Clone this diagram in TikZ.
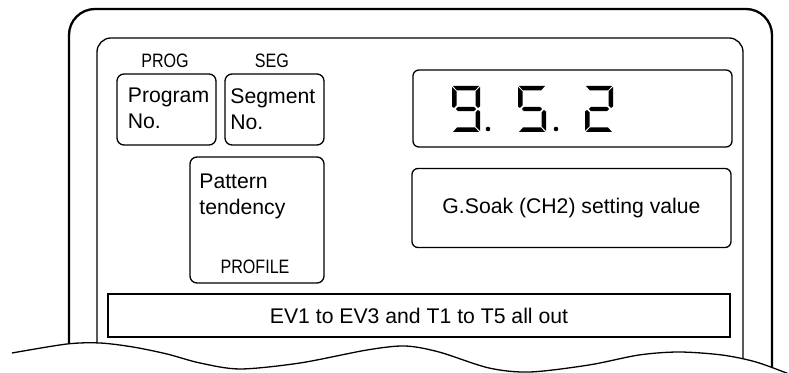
\documentclass[tikz,border=0pt]{standalone}
\usepackage{fontspec}
\setmainfont{Liberation Sans}
\usepackage{graphicx}
\newcommand\dsegA{\fill (1,0) -- (27,0) -- (23,4.5) -- (5,4.5) -- cycle;}
\newcommand\dsegB{\fill (28,1) -- (28,20.5) -- (26,22) -- (23.5,19.5) -- (23.5,5.5) -- cycle;}
\newcommand\dsegC{\fill (28,45) -- (23.5,40.5) -- (23.5,26.5) -- (26,24) -- (28,25.5) -- cycle;}
\newcommand\dsegD{\fill (1,46) -- (5,41.5) -- (23,41.5) -- (27,46) -- cycle;}
\newcommand\dsegE{\fill (0,45) -- (4.5,40.5) -- (4.5,26.5) -- (2,24) -- (0,25.5) -- cycle;}
\newcommand\dsegF{\fill (0,1) -- (4.5,5.5) -- (4.5,19.5) -- (2,22) -- (0,20.5) -- cycle;}
\newcommand\dsegG{\fill (4,23) -- (6,20.8) -- (22,20.8) -- (24,23) -- (22,25.2) -- (6,25.2) -- cycle;}
\begin{document}
\begin{tikzpicture}[x=0.5pt,y=-0.5pt,
  box/.style={draw, line width=0.65pt, rounded corners=3.5pt, inner sep=0pt},
  txt/.style={font=\fontsize{10.6}{13}\selectfont, inner sep=0pt},
  lab/.style={font=\fontsize{9.7}{11}\selectfont, inner sep=0pt}]
\useasboundingbox (0,0) rectangle (789,373);
% frames
\draw[line width=1.15pt, rounded corners=13pt] (69,390) -- (69,9) -- (772,9) -- (772,390);
\draw[line width=0.65pt, rounded corners=7pt] (97,390) -- (97,38) -- (743,38) -- (743,390);
% wave
\fill[white] plot[smooth] coordinates {(12,353) (67,344) (100,343) (133,347) (167,354) (200,363) (240,369) (300,363) (367,350) (405,346) (439,352) (489,368) (530,372) (589,365) (639,355) (679,352) (722,355) (756,362) (789,374)} -- (800,400) -- (0,400) -- cycle;
\draw[line width=0.65pt] plot[smooth] coordinates {(12,353) (67,344) (100,343) (133,347) (167,354) (200,363) (240,369) (300,363) (367,350) (405,346) (439,352) (489,368) (530,372) (589,365) (639,355) (679,352) (722,355) (756,362) (789,374)};
% labels
\node[lab] (proglab) at (165,61) {\scalebox{0.83}[1]{PROG}};
\node[lab] (seglab) at (272,61) {\scalebox{0.83}[1]{SEG}};
% boxes
\node[box, minimum width=49.5pt, minimum height=35.5pt] (prog) at (166.5,109.5) {};
\node[txt, align=left, anchor=north west] (progtxt) at (127.5,87.5) {Program\\No.};
\node[box, minimum width=49.5pt, minimum height=35.5pt] (seg) at (274.5,109.5) {};
\node[txt, align=left, anchor=north west] (segtxt) at (230,88) {Segment\\No.};
\node[box, minimum width=67pt, minimum height=63pt] (pat) at (257,220) {};
\node[txt, align=left, anchor=north west] (pattxt) at (199,174) {Pattern\\tendency};
\node[lab] (proflab) at (255,267) {\scalebox{0.83}[1]{PROFILE}};
\node[box, rounded corners=3pt, minimum width=159.5pt, minimum height=38.5pt] (disp) at (572.5,108.5) {};
\node[box, rounded corners=3pt, minimum width=159.5pt, minimum height=39.5pt, txt] (gsoak) at (571.5,208) {G.Soak (CH2) setting value};
\node[draw, line width=0.65pt, inner sep=0pt, minimum width=311pt, minimum height=21.5pt, txt] (ev) at (419,315.5) {EV1 to EV3 and T1 to T5 all out};
% digits
\begin{scope}[shift={(452,86)}]\dsegA\dsegB\dsegC\dsegD\dsegF\dsegG\end{scope}
\fill (488,129) circle (1.15pt);
\begin{scope}[shift={(518,86)}]\dsegA\dsegC\dsegD\dsegF\dsegG\end{scope}
\fill (556,129) circle (1.15pt);
\begin{scope}[shift={(585,86)}]\dsegA\dsegB\dsegD\dsegE\dsegG\end{scope}
\end{tikzpicture}
\end{document}
